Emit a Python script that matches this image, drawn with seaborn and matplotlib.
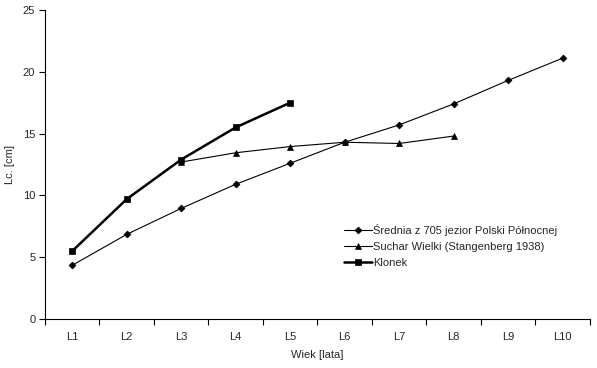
import numpy as np
import pandas as pd
import seaborn as sns
import matplotlib.pyplot as plt
from matplotlib.ticker import FixedLocator, NullFormatter

categories = ['L1', 'L2', 'L3', 'L4', 'L5', 'L6', 'L7', 'L8', 'L9', 'L10']
srednia = [4.35, 6.85, 8.95, 10.9, 12.6, 14.3, 15.7, 17.4, 19.3, 21.1]
suchar = [None, None, 12.7, 13.45, 13.95, 14.3, 14.2, 14.8, None, None]
klonek = [5.5, 9.7, 12.9, 15.5, 17.5, None, None, None, None, None]

names = ['Średnia z 705 jezior Polski Północnej',
         'Suchar Wielki (Stangenberg 1938)',
         'Klonek']

rows = []
for name, vals in zip(names, [srednia, suchar, klonek]):
    for i, v in enumerate(vals):
        if v is not None:
            rows.append({'pos': i, 'Lc': v, 'series': name})
df = pd.DataFrame(rows)

sns.set_style('white')
plt.rcParams['font.family'] = ['Liberation Sans', 'DejaVu Sans']

fig = plt.figure(figsize=(5.97, 3.68), dpi=100)
ax = fig.add_axes([0.0754, 0.133, 0.9126, 0.840])

sns.lineplot(data=df, x='pos', y='Lc', hue='series', style='series',
             hue_order=names, style_order=names,
             palette=['black', 'black', 'black'],
             markers={names[0]: 'D', names[1]: '^', names[2]: 's'},
             dashes=False, ax=ax, legend=False)

lw = {names[0]: 0.8, names[1]: 0.8, names[2]: 1.8}
ms = {names[0]: 3.5, names[1]: 5, names[2]: 5}
for line, name in zip(ax.get_lines(), names):
    line.set_linewidth(lw[name])
    line.set_markersize(ms[name])
    line.set_markeredgewidth(0.5)
    line.set_markerfacecolor('black')
    line.set_markeredgecolor('black')
    line.set_label(name)

ax.set_xlim(-0.5, 9.5)
ax.set_ylim(0, 25)
ax.set_yticks([0, 5, 10, 15, 20, 25])
ax.xaxis.set_major_locator(FixedLocator(np.arange(-0.5, 10, 1)))
ax.xaxis.set_major_formatter(NullFormatter())
ax.xaxis.set_minor_locator(FixedLocator(np.arange(10)))
ax.set_xticklabels(categories, minor=True)
ax.tick_params(axis='x', which='major', bottom=True, direction='out', length=4, width=0.8, color='black')
ax.tick_params(axis='x', which='minor', bottom=False, length=0, labelsize=8, pad=9)
ax.tick_params(axis='y', left=True, direction='out', length=4, width=0.8, color='black', labelsize=8, pad=3)

for s in ['top', 'right']:
    ax.spines[s].set_visible(False)
for s in ['left', 'bottom']:
    ax.spines[s].set_color('black')
    ax.spines[s].set_linewidth(0.8)

ax.set_xlabel('Wiek [lata]', fontsize=8, labelpad=6)
ax.set_ylabel('Lc. [cm]', fontsize=8, labelpad=6)

ax.legend(loc='upper left', bbox_to_anchor=(0.53, 0.34), frameon=False,
          fontsize=8, handlelength=2.5, handletextpad=0.1, labelspacing=0.55)

fig.savefig('out.png', dpi=100)
